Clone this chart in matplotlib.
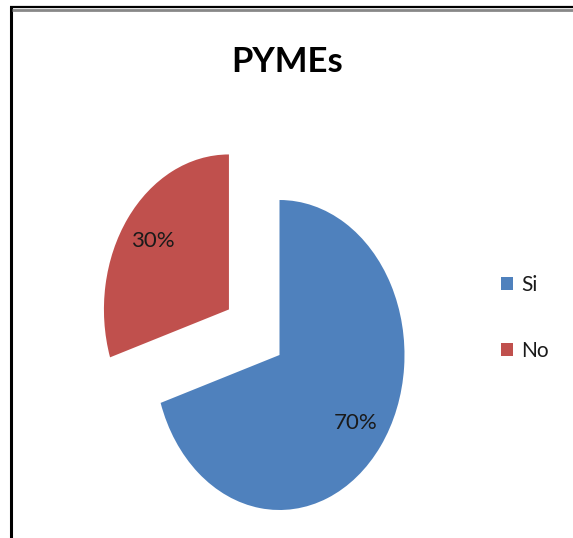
import matplotlib
matplotlib.use("Agg")
import matplotlib.pyplot as plt
from matplotlib.lines import Line2D

# Data
categories = ["Si", "No"]
shares = [70, 30]
colors = ["#4F81BD", "#C0504D"]
explode = [0.0, 0.5]
title = "PYMEs"

FONT = ["Lato", "DejaVu Sans"]

W, H = 573, 538
fig = plt.figure(figsize=(W / 100, H / 100), dpi=100)
fig.patch.set_facecolor("white")

# Pie centre and radii in pixels (the chart is stretched vertically)
cx, cy = 279.5, 355.0
rx, ry = 125.0, 155.0

ax = fig.add_axes([0, 0, 1, 1])
wedges, _texts, autotexts = ax.pie(
    shares,
    colors=colors,
    explode=explode,
    startangle=90,
    counterclock=False,
    radius=1.0,
    autopct=lambda p: f"{p:.0f}%",
    pctdistance=0.75,
    wedgeprops=dict(linewidth=0),
    textprops=dict(fontsize=16, color="#1a1a1a", family=FONT),
)
ax.set_aspect("auto")
ax.set_xlim((0 - cx) / rx, (W - cx) / rx)
ax.set_ylim((cy - H) / ry, cy / ry)
ax.axis("off")

# Title
fig.text(287 / W, 1 - 72 / H, title, ha="center", va="baseline",
         fontsize=25, fontweight="bold", family=FONT, color="black")

# Legend
leg = fig.legend(
    wedges, categories,
    loc="upper left",
    bbox_to_anchor=(482 / W, 1 - 256 / H),
    frameon=False,
    handlelength=0.6, handleheight=0.6,
    handletextpad=0.4,
    labelspacing=2.2,
    prop=dict(family=FONT, size=15),
)
for t in leg.get_texts():
    t.set_color("#1a1a1a")

# Frame lines along the left and top edges
fig.add_artist(Line2D([11 / W, 11 / W], [0, 1 - 6 / H], transform=fig.transFigure,
                      color="black", linewidth=2.2, solid_capstyle="butt"))
fig.add_artist(Line2D([10 / W, 1], [1 - 7 / H, 1 - 7 / H], transform=fig.transFigure,
                      color="black", linewidth=1.6, solid_capstyle="butt"))
fig.add_artist(Line2D([12 / W, 1], [1 - 9.7 / H, 1 - 9.7 / H], transform=fig.transFigure,
                      color="#888888", linewidth=2.0, solid_capstyle="butt"))

fig.savefig("out.png", dpi=100, facecolor="white")
